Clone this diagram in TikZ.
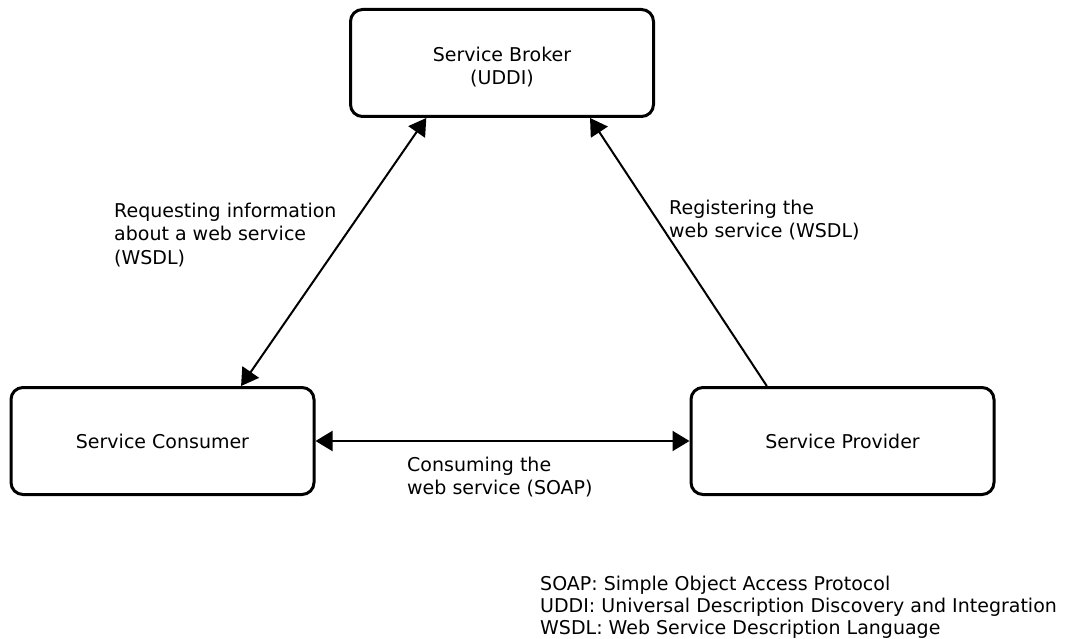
\documentclass[tikz,border=0pt]{standalone}
\usepackage{fontspec}
\setmainfont{DejaVu Sans}
\usetikzlibrary{arrows.meta}

\begin{document}
\begin{tikzpicture}[x=1pt,y=-1pt,
  svcbox/.style={draw,line width=3pt,rounded corners=12pt,minimum width=303pt,minimum height=107pt,align=center,font=\fontsize{19}{23.5}\selectfont},
  link/.style={line width=2pt,arrows={-{Triangle[length=17pt,width=20pt]}}},
  note/.style={anchor=west,inner sep=0pt,align=left,font=\fontsize{19}{23.5}\selectfont}]
\useasboundingbox (0,0) rectangle (1066,639);
\node[svcbox] (broker) at (502,63) {\rule{0pt}{23pt}Service Broker\\(UDDI)};
\node[svcbox] (consumer) at (162.5,441) {Service Consumer};
\node[svcbox] (provider) at (842.5,441) {Service Provider};
\draw[link,{Triangle[length=17pt,width=20pt]}-{Triangle[length=17pt,width=20pt]}] (consumer.35) -- (broker.216);
\draw[link] (provider.144) -- (broker.328);
\draw[link,{Triangle[length=17pt,width=20pt]}-{Triangle[length=17pt,width=20pt]}] (consumer.east) -- (provider.west);
\node[note] (reqlab) at (114,235) {Requesting information\\about a web service\\(WSDL)};
\node[note] (reglab) at (669,220) {Registering the\\web service (WSDL)};
\node[note] (conlab) at (407,477) {Consuming the\\web service (SOAP)};
\node[note,font=\fontsize{19}{22}\selectfont] (legend) at (540,607) {SOAP: Simple Object Access Protocol\\UDDI: Universal Description Discovery and Integration\\WSDL: Web Service Description Language};
\end{tikzpicture}
\end{document}
